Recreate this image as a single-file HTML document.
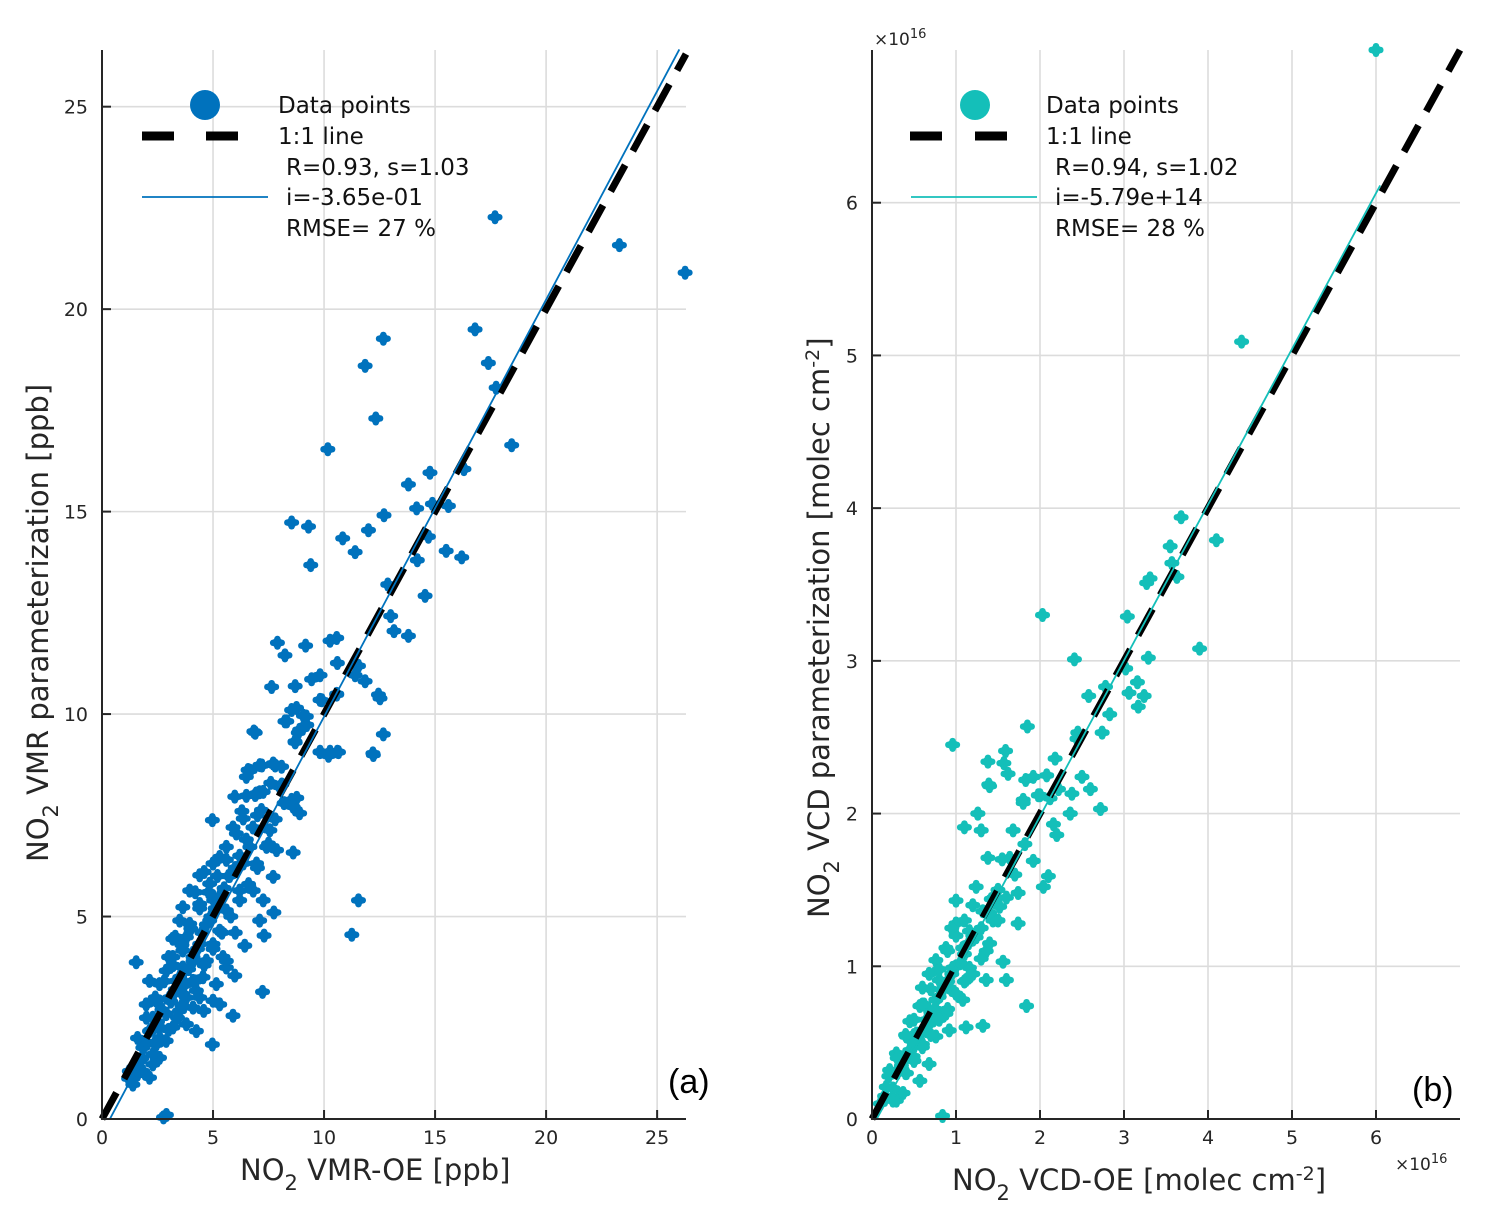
<!DOCTYPE html>
<html><head><meta charset="utf-8">
<style>
html,body{margin:0;padding:0;background:#fff;}
svg{display:block;font-family:"DejaVu Sans","Liberation Sans",sans-serif;}
</style></head>
<body>
<svg id="fig" width="1485" height="1227" viewBox="0 0 1485 1227" xmlns="http://www.w3.org/2000/svg">
<defs>
<g id="mk">
<rect x="-7.5" y="-3.2" width="15" height="6.4" rx="3"/>
<rect x="-3.2" y="-7" width="6.4" height="14" rx="3"/>
<circle r="5.2"/>
</g>
</defs>
<g id="panelA"></g>
<g id="panelB"></g>
</svg>
<script>
// ---------- Panel (a) data ----------
const aX = [17.7,23.3,26.26,16.8,12.67,17.4,11.85,17.75,12.33,18.45,10.17,16.3,14.77,13.8,14.17,14.88,15.6,12.7,8.54,9.3,10.84,12.0,11.4,14.7,14.2,15.5,16.2,9.4,12.87,14.55,13.0,13.15,13.8,7.9,8.24,9.17,10.27,10.57,10.6,11.55,9.82,9.44,11.4,11.85,7.64,8.7,12.45,12.52,10.57,9.9,8.54,9.07,8.32,9.22,8.84,8.7,6.9,12.67,9.82,10.2,10.65,12.22,6.67,7.2,7.8,8.1,7.1,8.77,
6.84,4.97,8.61,1.54,7.23,5.9,4.97,2.77,11.55,11.25,12.2,10.27,9.82,10.6,7.74,7.1,7.3,6.43,5.98,7.71,8.61,8.9,8.54,8.09,7.71,7.11,6.58,6.5,5.98,6.5,6.95,7.26,6.36,7.18,8.0,8.24,8.76,9.2,8.9,8.69,9.82,10.57,6.05,5.6,5.3,6.66,7.41,7.86,7.56,6.96,6.36,5.0,4.4,4.85,5.75,6.2,6.81,7.26,3.95,3.64,4.4,5.03,5.6,3.5,3.95,4.85,5.3,3.19,3.8,4.4,5.0,3.64,3.19,4.1,4.7,5.45,5.6,2.89,3.64,2.14,2.59,3.34,4.1,4.55,5.15,5.0,5.3,4.25,3.64,3.04,2.44,1.99,2.29,2.89,3.49,4.1,4.58,3.8,4.25,3.19,2.59,2.14,2.89,2.44,1.84,2.59,1.69,1.23,1.84,1.39,2.29,2.14,1.6,2.9,
1.2,1.5,1.8,2.0,2.2,2.5,2.7,2.9,3.1,3.3,3.5,3.7,3.9,4.1,4.3,4.5,4.7,4.9,5.1,5.3,5.5,5.7,6.0,6.2,6.5,6.8,7.0,2.4,2.8,3.2,3.6,4.0,4.4,4.8,5.2,5.6,3.0,3.4,3.8,4.2,4.6,5.0,5.4,5.8,6.2,6.6,1.6,2.0,2.3,2.6,3.6,4.4,5.6,6.0,7.0,7.5,6.3,5.9,3.0,3.3,4.2,4.6,7.8,8.2,6.9,7.6];
const aY = [22.27,21.58,20.9,19.5,19.27,18.67,18.6,18.06,17.3,16.64,16.54,16.05,15.96,15.67,15.08,15.19,15.14,14.91,14.73,14.63,14.34,14.54,14.0,14.38,13.8,14.03,13.87,13.68,13.2,12.92,12.42,12.05,11.93,11.76,11.45,11.69,11.81,11.88,11.26,11.19,10.96,10.86,10.96,10.81,10.67,10.69,10.48,10.39,10.48,10.34,10.1,9.96,9.82,9.73,9.54,9.3,9.54,9.5,9.06,8.97,9.06,8.99,8.6,8.73,8.73,8.26,8.07,7.93,
9.57,7.38,6.58,3.87,3.14,2.55,1.84,0.04,5.4,4.55,9.03,9.07,9.07,9.07,5.1,4.9,4.53,4.28,3.54,5.98,7.71,7.55,7.88,8.7,8.78,8.74,8.62,8.45,7.96,7.98,8.04,8.08,7.42,7.63,8.2,9.82,10.15,9.94,9.61,9.32,10.35,10.5,7.05,6.72,6.47,6.72,6.72,6.64,7.13,6.31,6.31,6.31,6.02,5.81,6.0,5.64,5.64,5.4,5.64,5.23,5.31,5.4,5.15,4.9,4.82,4.9,4.65,4.45,4.49,4.32,4.32,4.16,4.0,4.0,3.91,4.0,3.74,3.66,3.74,3.41,3.33,3.41,3.41,3.5,3.33,2.92,2.83,3.17,3.08,3.0,2.92,2.83,2.5,2.59,2.67,2.75,2.67,2.34,2.17,2.26,2.26,2.17,1.93,1.84,1.76,1.51,1.43,1.18,1.18,0.85,1.35,1.02,1.1,0.1,
1.0,1.3,1.5,1.9,2.2,2.4,2.7,2.6,2.9,3.2,3.5,3.3,3.7,3.9,4.2,4.6,4.8,5.0,5.2,5.5,5.7,6.0,6.2,6.5,6.9,7.2,7.5,3.0,3.4,3.8,4.3,4.7,5.2,5.6,6.0,6.4,2.2,2.5,3.0,3.4,3.8,4.2,4.6,5.0,5.4,5.8,2.0,2.5,1.6,2.0,2.8,3.0,3.9,4.6,6.2,6.8,7.6,7.2,4.0,4.5,5.6,6.1,7.4,7.8,8.0,8.3];
const aXTicks = [0,5,10,15,20,25];
const aYTicks = [0,5,10,15,20,25];
const aFit = {slope:1.03, intercept:-0.365, x0:0.35, x1:26.0};

// ---------- Panel (b) data (units of 1e16) ----------
const bX = [6.0,4.4,3.68,4.1,3.55,3.57,3.63,3.31,3.27,2.03,3.04,3.9,2.41,3.29,3.02,2.78,3.16,2.58,3.06,3.24,3.17,2.83,1.85,2.45,2.44,2.74,0.96,1.38,1.59,1.57,1.62,1.39,2.18,1.83,1.92,2.08,2.5,2.6,2.0,2.22,2.38,1.8,1.26,2.72,2.36,2.12,
1.4,1.26,1.1,1.3,1.68,1.8,1.98,2.36,2.16,2.2,1.38,1.64,1.82,1.92,2.1,2.04,1.74,1.24,1.0,1.42,1.52,1.32,1.0,1.44,1.74,1.16,1.36,1.56,0.88,1.08,0.76,0.96,0.68,1.12,1.36,1.6,0.6,0.92,1.08,1.84,0.76,0.57,0.88,1.12,1.32,0.45,0.68,0.92,0.41,0.6,0.76,0.29,0.49,0.68,0.21,0.41,0.57,0.17,0.37,0.29,0.84,0.53,1.16,1.24,0.8,0.72,0.62,0.5,0.35,
0.1,0.15,0.25,0.3,0.35,0.4,0.45,0.5,0.55,0.6,0.65,0.7,0.75,0.8,0.85,0.9,0.95,1.0,1.05,1.1,1.15,1.2,1.3,1.4,1.45,1.5,0.3,0.4,0.5,0.6,0.7,0.8,0.9,1.0,0.4,0.5,0.6,0.7,0.8,0.9,1.0,1.1,1.2,1.3,1.4,1.2,1.1,0.95,1.5,1.6,1.7,1.55,0.2,0.25];
const bY = [7.0,5.09,3.94,3.79,3.75,3.64,3.55,3.54,3.51,3.3,3.29,3.08,3.01,3.02,2.95,2.83,2.86,2.77,2.79,2.77,2.7,2.65,2.57,2.53,2.49,2.53,2.45,2.34,2.41,2.33,2.26,2.19,2.36,2.22,2.24,2.25,2.24,2.16,2.12,2.16,2.13,2.09,2.0,2.03,2.0,2.1,
2.18,2.0,1.91,1.89,1.89,2.07,2.12,2.0,1.93,1.86,1.71,1.71,1.8,1.69,1.59,1.52,1.48,1.52,1.43,1.44,1.39,1.36,1.28,1.3,1.28,1.23,1.1,1.03,1.12,1.12,1.04,0.99,0.95,0.91,0.91,0.91,0.86,0.86,0.78,0.74,0.78,0.74,0.69,0.6,0.61,0.64,0.62,0.58,0.54,0.49,0.54,0.43,0.41,0.36,0.32,0.3,0.25,0.21,0.17,0.12,0.02,0.56,0.99,1.19,0.91,0.69,0.75,0.55,0.4,
0.1,0.15,0.2,0.3,0.35,0.42,0.45,0.5,0.55,0.58,0.65,0.7,0.72,0.8,0.85,0.9,0.95,1.0,1.02,1.08,1.15,1.2,1.25,1.35,1.45,1.5,0.4,0.55,0.65,0.75,0.85,0.98,1.1,1.2,0.3,0.38,0.47,0.55,0.65,0.72,0.82,0.9,0.95,1.05,1.15,1.4,1.3,1.25,1.3,1.45,1.6,1.7,0.28,0.12];
const bXTicks = [0,1,2,3,4,5,6];
const bYTicks = [0,1,2,3,4,5,6];
const bFit = {slope:1.02, intercept:-0.0579, x0:0.06, x1:6.05};

const NS = 'http://www.w3.org/2000/svg';
function mk(tag, attrs, parent){const e=document.createElementNS(NS,tag);for(const k in attrs)e.setAttribute(k,attrs[k]);if(parent)parent.appendChild(e);return e;}

function drawPanel(g, cfg){
  const sx = v => cfg.x0 + v / cfg.xmax * (cfg.x1 - cfg.x0);
  const sy = v => cfg.y0 - v / cfg.ymax * (cfg.y0 - cfg.y1);
  cfg.xTicks.forEach(t=>{ if(t===0) return;
    const l=mk('line',{x1:sx(t),x2:sx(t),y1:cfg.y1,y2:cfg.y0,stroke:'#dcdcdc','stroke-width':1.6},g);
    
    
  });
  cfg.yTicks.forEach(t=>{ if(t===0) return;
    const l=mk('line',{x1:cfg.x0,x2:cfg.x1,y1:sy(t),y2:sy(t),stroke:'#dcdcdc','stroke-width':1.6},g);
    
    
  });
  const pts=mk('g',{fill:cfg.color},g);
  
  
  for(let i=0;i<cfg.px.length;i++){
    const u=mk('use',{href:'#mk',x:sx(cfg.px[i]),y:sy(cfg.py[i])},pts);
    
    
  }
  const m=Math.min(cfg.xmax,cfg.ymax);
  const d=mk('line',{x1:sx(0),y1:sy(0),x2:sx(m),y2:sy(m),stroke:'#000','stroke-width':7,'stroke-dasharray':'30 16'},g);
  
  
  const f=cfg.fit;
  const fl=mk('line',{x1:sx(f.x0),y1:sy(f.slope*f.x0+f.intercept),x2:sx(f.x1),y2:sy(f.slope*f.x1+f.intercept),stroke:cfg.color,'stroke-width':1.8},g);
  
  
  const ax=mk('path',{d:`M${cfg.x0},${cfg.y1} L${cfg.x0},${cfg.y0} L${cfg.x1},${cfg.y0}`,fill:'none',stroke:'#262626','stroke-width':2},g);
  
  
  cfg.xTicks.forEach(t=>{
    const tk=mk('line',{x1:sx(t),x2:sx(t),y1:cfg.y0,y2:cfg.y0-9,stroke:'#262626','stroke-width':2},g);
    
    
    const tx=mk('text',{x:sx(t),y:cfg.y0+25,'text-anchor':'middle','font-size':19,fill:'#262626'},g);
    tx.textContent=String(t);
    
    
  });
  cfg.yTicks.forEach(t=>{
    const tk=mk('line',{x1:cfg.x0,x2:cfg.x0+9,y1:sy(t),y2:sy(t),stroke:'#262626','stroke-width':2},g);
    
    
    const tx=mk('text',{x:cfg.x0-14,y:sy(t)+7,'text-anchor':'end','font-size':19,fill:'#262626'},g);
    tx.textContent=String(t);
    
    
  });
}

drawPanel(document.getElementById('panelA'),{x0:102,x1:686,y0:1119,y1:50,xmax:26.3,ymax:26.4,color:'#0072bd',px:aX,py:aY,xTicks:aXTicks,yTicks:aYTicks,fit:aFit});
drawPanel(document.getElementById('panelB'),{x0:872,x1:1460,y0:1119,y1:50,xmax:7.0,ymax:7.0,color:'#14bfb9',px:bX,py:bY,xTicks:bXTicks,yTicks:bYTicks,fit:bFit});
</script>
<svg style="position:absolute;left:0;top:0" width="1485" height="1227" xmlns="http://www.w3.org/2000/svg" font-family="DejaVu Sans, Liberation Sans, sans-serif">
  <g>
    <circle cx="205" cy="105" r="15" fill="#0072bd"/>
    <line x1="142" y1="136" x2="174" y2="136" stroke="#000" stroke-width="9"/>
    <line x1="206" y1="136" x2="238" y2="136" stroke="#000" stroke-width="9"/>
    <line x1="142" y1="197" x2="268" y2="197" stroke="#0072bd" stroke-width="1.8"/>
    <g font-size="23" fill="#111">
      <text x="278" y="113">Data points</text>
      <text x="278" y="144">1:1 line</text>
      <text x="286" y="175">R=0.93, s=1.03</text>
      <text x="286" y="205">i=-3.65e-01</text>
      <text x="286" y="236">RMSE= 27 %</text>
    </g>
  </g>
  <g>
    <circle cx="975" cy="105" r="15" fill="#14bfb9"/>
    <line x1="910" y1="136" x2="942" y2="136" stroke="#000" stroke-width="9"/>
    <line x1="975" y1="136" x2="1007" y2="136" stroke="#000" stroke-width="9"/>
    <line x1="911" y1="197" x2="1037" y2="197" stroke="#14bfb9" stroke-width="1.8"/>
    <g font-size="23" fill="#111">
      <text x="1046" y="113">Data points</text>
      <text x="1046" y="144">1:1 line</text>
      <text x="1055" y="175">R=0.94, s=1.02</text>
      <text x="1055" y="205">i=-5.79e+14</text>
      <text x="1055" y="236">RMSE= 28 %</text>
    </g>
  </g>
  <text x="240" y="1180" font-size="29" fill="#262626">NO<tspan dy="10" font-size="21">2</tspan><tspan dy="-10"> VMR-OE [ppb]</tspan></text>
  <text transform="translate(48,862) rotate(-90)" font-size="29" fill="#262626">NO<tspan dy="10" font-size="21">2</tspan><tspan dy="-10">   VMR parameterization [ppb]</tspan></text>
  <text x="952" y="1190" font-size="29" fill="#262626">NO<tspan dy="10" font-size="21">2</tspan><tspan dy="-10"> VCD-OE [molec cm</tspan><tspan dy="-10" font-size="19">-2</tspan><tspan dy="10">]</tspan></text>
  <text transform="translate(829,918) rotate(-90)" font-size="29" fill="#262626">NO<tspan dy="10" font-size="21">2</tspan><tspan dy="-10"> VCD parameterization [molec cm</tspan><tspan dy="-10" font-size="19">-2</tspan><tspan dy="10">]</tspan></text>
  <text x="874" y="45" font-size="17" fill="#262626">×10<tspan dy="-7" font-size="13">16</tspan></text>
  <text x="1395" y="1170" font-size="17" fill="#262626">×10<tspan dy="-7" font-size="13">16</tspan></text>
  <text x="668" y="1093" font-size="34" font-family="Liberation Sans, sans-serif" fill="#000">(a)</text>
  <text x="1412" y="1101" font-size="34" font-family="Liberation Sans, sans-serif" fill="#000">(b)</text>
</svg>
</body></html>
